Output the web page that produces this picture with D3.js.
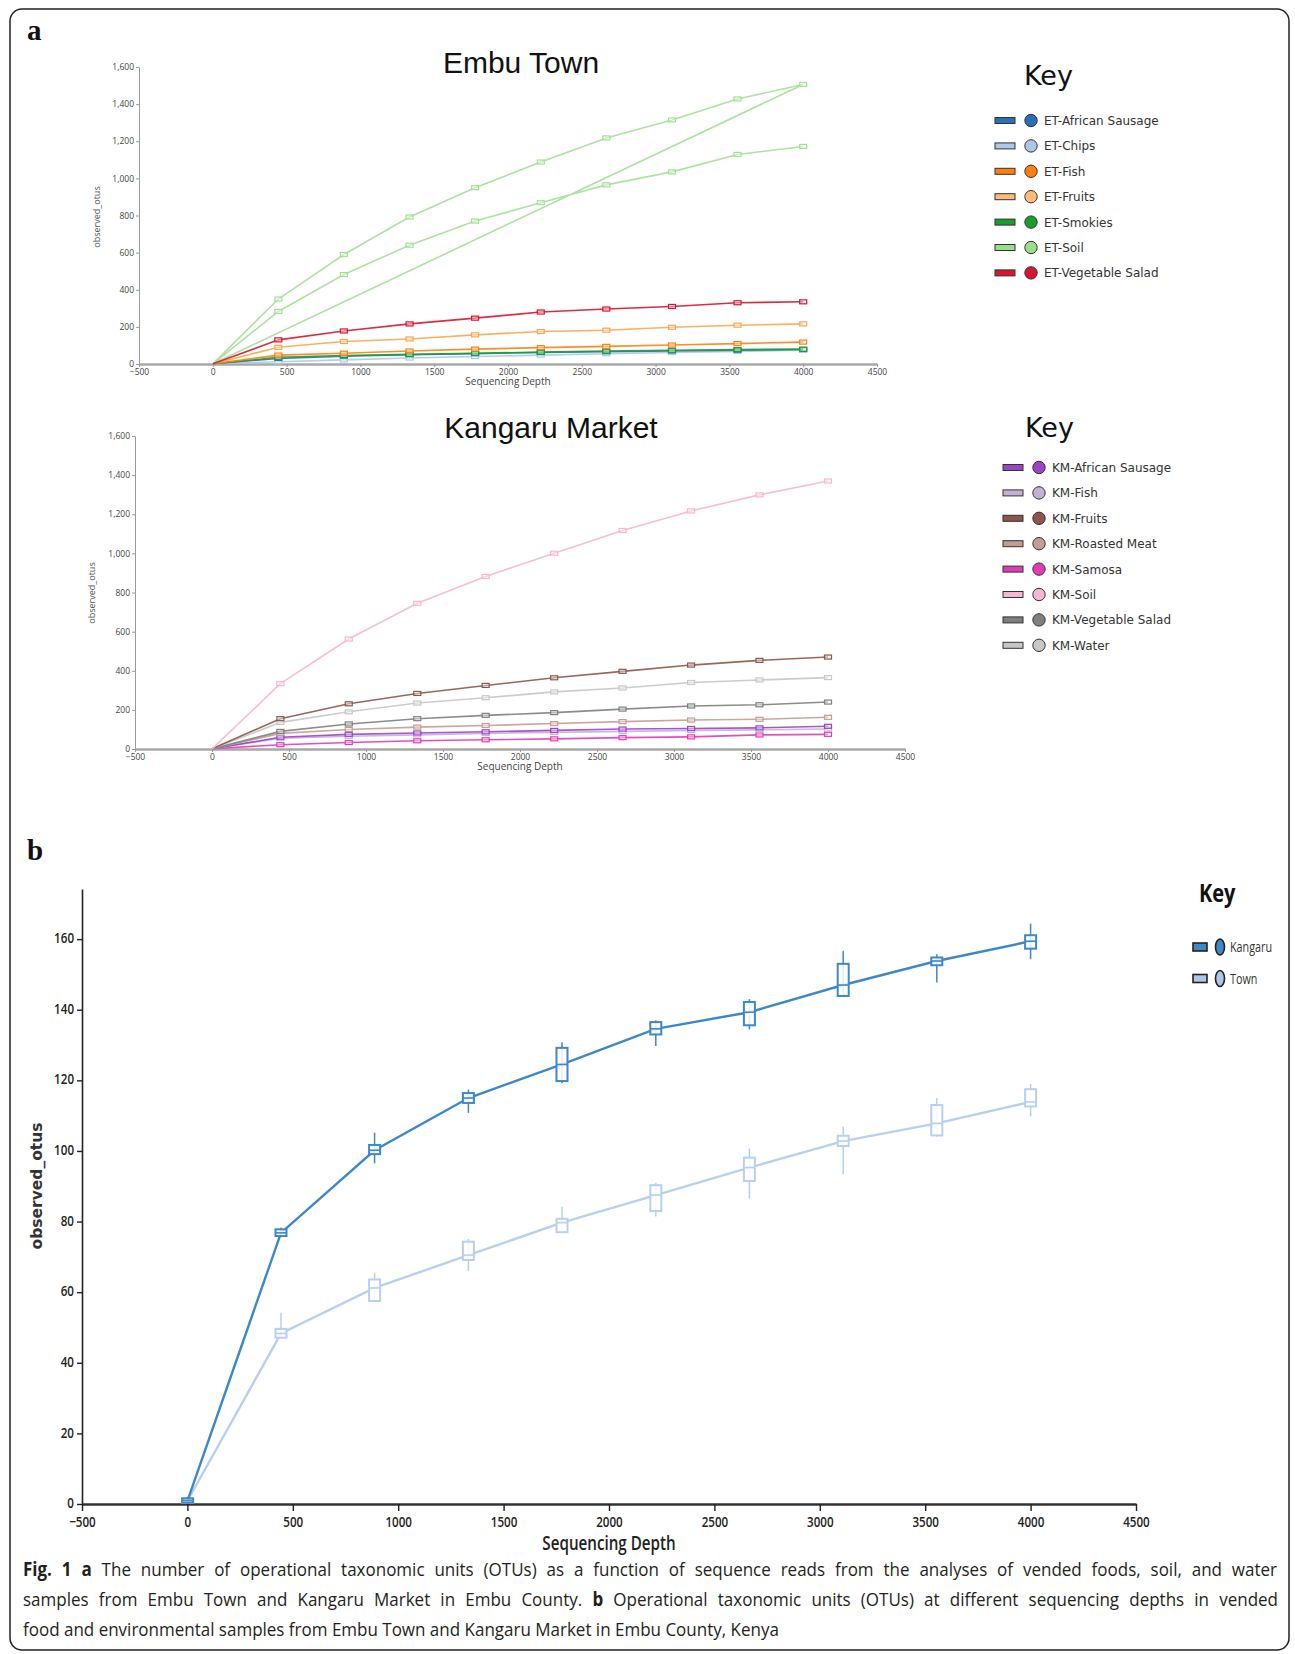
<!DOCTYPE html>
<html>
<head>
<meta charset="utf-8">
<script src="https://cdn.jsdelivr.net/npm/d3@7"></script>
<style>
  body { margin: 0; background: #fff; }
  svg { display: block; }
</style>
</head>
<body>
<svg id="fig" width="1295" height="1654"></svg>
<script>
// ---------- data ----------
const depths = [1, 444, 888, 1333, 1777, 2222, 2666, 3111, 3555, 4000];
const xTicks = [-500, 0, 500, 1000, 1500, 2000, 2500, 3000, 3500, 4000, 4500];
const yTicksA = [0, 200, 400, 600, 800, 1000, 1200, 1400, 1600];
const yTicksB = [0, 20, 40, 60, 80, 100, 120, 140, 160];

// Embu Town (observed OTUs per rarefaction depth)
const etCategories = ["ET-African Sausage", "ET-Chips", "ET-Fish", "ET-Fruits", "ET-Smokies", "ET-Soil", "ET-Vegetable Salad"];
const etColors = ["#2a70b8", "#aec7e8", "#ff7f0e", "#ffbb78", "#16a02a", "#98df8a", "#d8142e"];
const etAfricanSausage = [1, 30, 42, 50, 56, 62, 66, 70, 74, 78];
const etChips = [1, 12, 22, 32, 40, 48, 55, 62, 68, 74];
const etFish = [1, 48, 58, 70, 80, 88, 95, 102, 110, 118];
const etFruits = [1, 90, 121, 135, 157, 175, 182, 198, 209, 216];
const etSmokies = [1, 36, 46, 52, 58, 64, 70, 74, 78, 80];
const etSoilA = [1, 350, 590, 792, 950, 1088, 1218, 1315, 1428, 1506];
const etSoilB = [1, 283, 482, 640, 770, 869, 965, 1035, 1129, 1172];
const etVegetableSalad = [1, 130, 178, 216, 247, 280, 296, 310, 330, 335];

// Kangaru Market
const kmCategories = ["KM-African Sausage", "KM-Fish", "KM-Fruits", "KM-Roasted Meat", "KM-Samosa", "KM-Soil", "KM-Vegetable Salad", "KM-Water"];
const kmColors = ["#9a44c8", "#c5b0d5", "#8c564b", "#c49c94", "#e23cb4", "#f7b6d2", "#7f7f7f", "#c7c7c7"];
const kmAfricanSausage = [1, 60, 75, 82, 88, 95, 102, 105, 108, 116];
const kmFish = [1, 55, 65, 72, 80, 85, 90, 95, 98, 102];
const kmFruits = [1, 155, 231, 284, 325, 364, 397, 429, 453, 470];
const kmRoastedMeat = [1, 80, 100, 112, 120, 130, 140, 148, 152, 162];
const kmSamosa = [1, 22, 33, 42, 47, 52, 58, 62, 72, 75];
const kmSoil = [1, 334, 562, 745, 882, 1001, 1117, 1217, 1299, 1370];
const kmVegetableSalad = [1, 90, 128, 155, 172, 186, 204, 220, 226, 240];
const kmWater = [1, 136, 190, 235, 262, 292, 312, 340, 353, 365];

// Grouped curves: mean, box (q1..q3) and whisker (lo..hi)
const groups = ["Kangaru", "Town"];
const groupColors = ["#3f88c6", "#aec7e8"];
const kangaruMean = [1, 76.8, 100.2, 115.0, 124.5, 134.6, 139.3, 147.0, 153.8, 159.4];
const kangaruQ1 = [0.4, 75.9, 99.1, 113.6, 119.8, 133.0, 135.6, 143.9, 152.6, 157.3];
const kangaruQ3 = [1.6, 77.8, 101.7, 116.4, 129.2, 136.5, 142.2, 153.0, 154.8, 161.1];
const kangaruLo = [0, 75.7, 96.5, 110.8, 119.2, 129.7, 134.4, 143.7, 147.7, 154.3];
const kangaruHi = [2, 78.3, 105.2, 117.4, 130.8, 137.0, 143.0, 156.7, 155.7, 164.4];
const townMean = [1, 48.3, 61.2, 70.5, 79.7, 87.5, 95.3, 102.8, 107.8, 113.9];
const townQ1 = [0.4, 47.1, 57.5, 69.1, 77.0, 83.0, 91.5, 101.4, 104.4, 112.6];
const townQ3 = [1.6, 49.6, 63.6, 74.3, 80.8, 90.3, 98.1, 104.3, 113.0, 117.5];
const townLo = [0, 47.1, 57.5, 66.0, 77.0, 81.4, 86.5, 93.4, 104.0, 109.8];
const townHi = [2, 54.2, 65.5, 75.1, 84.2, 91.0, 100.7, 106.9, 115.0, 119.0];

// ---------- drawing ----------
const svg = d3.select("#fig");

// outer frame
svg.append("rect")
  .attr("x", 10).attr("y", 9).attr("width", 1279).attr("height", 1641)
  .attr("rx", 12).attr("fill", "none").attr("stroke", "#222").attr("stroke-width", 1.5);

// panel letters
svg.append("text").attr("x", 27).attr("y", 40).text("a")
  .attr("font-family", "Liberation Serif").attr("font-weight", "bold").attr("font-size", 29).attr("fill", "#111");
svg.append("text").attr("x", 27).attr("y", 860).text("b")
  .attr("font-family", "Liberation Serif").attr("font-weight", "bold").attr("font-size", 29).attr("fill", "#111");

// rarefaction panel with one curve per category
function rarefactionPanel(L, series, title) {
  const x = d3.scaleLinear([-500, 4500], [L.left, L.right]);
  const y = d3.scaleLinear([0, 1600], [L.bottom, L.top]);
  const g = svg.append("g");

  const ya = g.append("g").attr("transform", `translate(${L.left},0)`)
    .call(d3.axisLeft(y).tickValues(yTicksA).tickFormat(d3.format(",")).tickSize(3).tickSizeOuter(0).tickPadding(2));
  ya.attr("font-family", "Open Sans").attr("font-size", 8.5);
  ya.select(".domain").attr("stroke", "#999");
  ya.selectAll(".tick line").attr("stroke", "#999");
  ya.selectAll(".tick text").attr("fill", "#444");

  const xa = g.append("g").attr("transform", `translate(0,${L.bottom})`)
    .call(d3.axisBottom(x).tickValues(xTicks).tickFormat(d3.format("d")).tickSize(3).tickSizeOuter(0).tickPadding(2));
  xa.attr("font-family", "Open Sans").attr("font-size", 8.5);
  xa.select(".domain").attr("stroke", "#a8a8a8").attr("stroke-width", 2.5);
  xa.selectAll(".tick line").attr("stroke", "#999");
  xa.selectAll(".tick text").attr("fill", "#444");

  g.append("text").attr("x", (L.left + L.right) / 2).attr("y", L.bottom + 21)
    .attr("text-anchor", "middle").attr("font-family", "Open Sans").attr("font-size", 10).attr("fill", "#444")
    .text("Sequencing Depth");
  g.append("text").attr("transform", `translate(${L.yLabelX},${L.yLabelY}) rotate(-90)`)
    .attr("text-anchor", "middle").attr("font-family", "Open Sans").attr("font-size", 9).attr("fill", "#555")
    .text("observed_otus");

  g.append("text").attr("x", L.titleX).attr("y", L.titleY).attr("text-anchor", "middle")
    .attr("font-family", "Liberation Sans").attr("font-size", 30).attr("fill", "#111").text(title);

  const line = d3.line().x(d => x(d[0])).y(d => y(d[1]));
  series.forEach(s => {
    const pts = s.values.flatMap(v => depths.map((d, i) => [d, v[i]]));
    g.append("path").attr("d", line(pts)).attr("fill", "none")
      .attr("stroke", s.color).attr("stroke-width", 1.6).attr("stroke-opacity", 0.9);
    g.append("g").selectAll("rect").data(pts.filter(p => p[0] > 1)).join("rect")
      .attr("x", d => x(d[0]) - 3.5).attr("y", d => y(d[1]) - 2)
      .attr("width", 7).attr("height", 4)
      .attr("fill", "#fff").attr("fill-opacity", 0.4)
      .attr("stroke", s.color).attr("stroke-width", 1.2);
  });
}

function keyLegend(K, names, colors) {
  const g = svg.append("g");
  g.append("text").attr("x", K.x).attr("y", K.titleY).text("Key")
    .attr("font-family", "DejaVu Sans").attr("font-size", 27).attr("fill", "#111");
  names.forEach((n, i) => {
    const cy = K.y0 + i * K.step;
    g.append("rect").attr("x", K.sx).attr("y", cy - 3).attr("width", 20).attr("height", 6)
      .attr("fill", colors[i]).attr("stroke", "#333").attr("stroke-width", 1);
    g.append("circle").attr("cx", K.sx + 36).attr("cy", cy).attr("r", 6.2)
      .attr("fill", colors[i]).attr("stroke", "#333").attr("stroke-width", 1);
    g.append("text").attr("x", K.sx + 49).attr("y", cy + 4.5).text(n)
      .attr("font-family", "DejaVu Sans").attr("font-size", 12).attr("fill", "#333");
  });
}

// Embu Town
const etSeries = [
  { color: etColors[1], values: [etChips] },
  { color: etColors[0], values: [etAfricanSausage] },
  { color: etColors[4], values: [etSmokies] },
  { color: etColors[2], values: [etFish] },
  { color: "#f7a84e", values: [etFruits] },
  { color: "#a3e096", values: [etSoilA, etSoilB] },
  { color: etColors[6], values: [etVegetableSalad] }
];
rarefactionPanel({ left: 139, right: 877, top: 67, bottom: 364, yLabelX: 100, yLabelY: 217, titleX: 521, titleY: 73 },
  etSeries, "Embu Town");
keyLegend({ x: 1024, titleY: 85, sx: 995, y0: 120.5, step: 25.4 }, etCategories, etColors);

// Kangaru Market
const kmSeries = [
  { color: kmColors[4], values: [kmSamosa] },
  { color: kmColors[1], values: [kmFish] },
  { color: kmColors[0], values: [kmAfricanSausage] },
  { color: kmColors[3], values: [kmRoastedMeat] },
  { color: kmColors[6], values: [kmVegetableSalad] },
  { color: kmColors[7], values: [kmWater] },
  { color: kmColors[2], values: [kmFruits] },
  { color: kmColors[5], values: [kmSoil] }
];
rarefactionPanel({ left: 135, right: 905, top: 436, bottom: 749, yLabelX: 95, yLabelY: 593, titleX: 551, titleY: 438 },
  kmSeries, "Kangaru Market");
keyLegend({ x: 1025, titleY: 437, sx: 1003, y0: 467.5, step: 25.4 }, kmCategories, kmColors);

// ---------- panel b ----------
const xB = d3.scaleLinear([-500, 4500], [82, 1136]);
const yB = d3.scaleLinear([0, 174.2], [1504, 889]);
const gb = svg.append("g");
const narrow = 0.8;

const yaB = gb.append("g").attr("transform", "translate(82,0)")
  .call(d3.axisLeft(yB).tickValues(yTicksB).tickSize(5).tickSizeOuter(0).tickPadding(3));
yaB.attr("font-family", "Open Sans").attr("font-size", 14.5).attr("font-weight", 600);
yaB.select(".domain").attr("stroke", "#222").attr("stroke-width", 1.6);
yaB.selectAll(".tick line").attr("stroke", "#222").attr("stroke-width", 1.4);
yaB.selectAll(".tick text").attr("fill", "#222").attr("x", -8 / narrow).attr("dy", "0.25em")
  .attr("transform", `scale(${narrow},1)`);

const xaB = gb.append("g").attr("transform", "translate(0,1504)")
  .call(d3.axisBottom(xB).tickValues(xTicks).tickFormat(d3.format("d")).tickSize(7).tickSizeOuter(0).tickPadding(6));
xaB.attr("font-family", "Open Sans").attr("font-size", 14.5).attr("font-weight", 600);
xaB.select(".domain").attr("stroke", "#333").attr("stroke-width", 2.6);
xaB.selectAll(".tick line").attr("stroke", "#222").attr("stroke-width", 1.4);
xaB.selectAll(".tick text").attr("fill", "#222").attr("transform", `scale(${narrow},1)`);

gb.append("text").attr("transform", `translate(609,1550) scale(${narrow},1)`)
  .attr("text-anchor", "middle").attr("font-family", "Open Sans").attr("font-weight", 600)
  .attr("font-size", 19).attr("fill", "#222").text("Sequencing Depth");
gb.append("text").attr("transform", "translate(42,1186) rotate(-90)")
  .attr("text-anchor", "middle").attr("font-family", "DejaVu Sans").attr("font-weight", "bold")
  .attr("font-size", 15.5).attr("fill", "#333").text("observed_otus");

const groupData = [
  { color: groupColors[0], width: 2.4, mean: kangaruMean, q1: kangaruQ1, q3: kangaruQ3, lo: kangaruLo, hi: kangaruHi },
  { color: "#b8d0ee", width: 2.4, mean: townMean, q1: townQ1, q3: townQ3, lo: townLo, hi: townHi }
];
const lineB = d3.line().x(d => xB(d[0])).y(d => yB(d[1]));
groupData.slice().reverse().forEach(gd => {
  const rows = depths.map((d, i) => ({ d, m: gd.mean[i], q1: gd.q1[i], q3: gd.q3[i], lo: gd.lo[i], hi: gd.hi[i] }));
  gb.append("path").attr("d", lineB(rows.map(r => [r.d, r.m]))).attr("fill", "none")
    .attr("stroke", gd.color).attr("stroke-width", gd.width);
  const mk = gb.append("g").selectAll("g").data(rows).join("g");
  mk.append("line").attr("x1", r => xB(r.d)).attr("x2", r => xB(r.d))
    .attr("y1", r => yB(r.hi)).attr("y2", r => yB(r.lo))
    .attr("stroke", gd.color).attr("stroke-width", 1.5);
  mk.append("rect").attr("x", r => xB(r.d) - 5.5).attr("y", r => yB(r.q3))
    .attr("width", 11).attr("height", r => Math.max(2, yB(r.q1) - yB(r.q3)))
    .attr("fill", "#fff").attr("fill-opacity", 0.85)
    .attr("stroke", gd.color).attr("stroke-width", 2);
  mk.append("line").attr("x1", r => xB(r.d) - 5.5).attr("x2", r => xB(r.d) + 5.5)
    .attr("y1", r => yB(r.m)).attr("y2", r => yB(r.m))
    .attr("stroke", gd.color).attr("stroke-width", 1.6);
});

// legend for panel b
const kb = svg.append("g");
kb.append("text").attr("transform", `translate(1199,902) scale(${narrow},1)`)
  .attr("font-family", "Open Sans").attr("font-weight", "bold").attr("font-size", 25).attr("fill", "#111").text("Key");
groups.forEach((name, i) => {
  const cy = 947 + i * 31.5;
  kb.append("rect").attr("x", 1193).attr("y", cy - 4).attr("width", 14).attr("height", 8)
    .attr("fill", groupColors[i]).attr("stroke", "#222").attr("stroke-width", 1.6);
  kb.append("ellipse").attr("cx", 1220).attr("cy", cy).attr("rx", 4.5).attr("ry", 8)
    .attr("fill", groupColors[i]).attr("stroke", "#222").attr("stroke-width", 1.6);
  kb.append("text").attr("transform", `translate(1230,${cy + 5}) scale(0.72,1)`)
    .attr("font-family", "Open Sans").attr("font-size", 15).attr("fill", "#333").text(name);
});

// ---------- caption ----------
// condensed body text; the first two lines are justified by widening word gaps
const captionLines = [
  [["Fig. 1 a", true], [" The number of operational taxonomic units (OTUs) as a function of sequence reads from the analyses of vended foods, soil, and water", false]],
  [["samples from Embu Town and Kangaru Market in Embu County. ", false], ["b", true], [" Operational taxonomic units (OTUs) at different sequencing depths in vended", false]],
  [["food and environmental samples from Embu Town and Kangaru Market in Embu County, Kenya", false]]
];
const captionScale = 0.895;
const captionJustify = [1254, 1255, null];
captionLines.forEach((parts, i) => {
  const t = svg.append("text")
    .attr("transform", `translate(23,${1576 + i * 30}) scale(${captionScale},1)`)
    .attr("font-family", "Open Sans").attr("font-size", 19).attr("fill", "#231f20");
  parts.forEach(([s, bold]) => {
    t.append("tspan").attr("font-weight", bold ? "bold" : "normal").text(s);
  });
  if (captionJustify[i]) {
    const natural = t.node().getComputedTextLength();
    const gaps = parts.map(p => p[0]).join("").split(" ").length - 1;
    const extra = (captionJustify[i] / captionScale - natural) / gaps;
    t.attr("word-spacing", Math.max(0, extra));
  }
});
</script>
</body>
</html>
